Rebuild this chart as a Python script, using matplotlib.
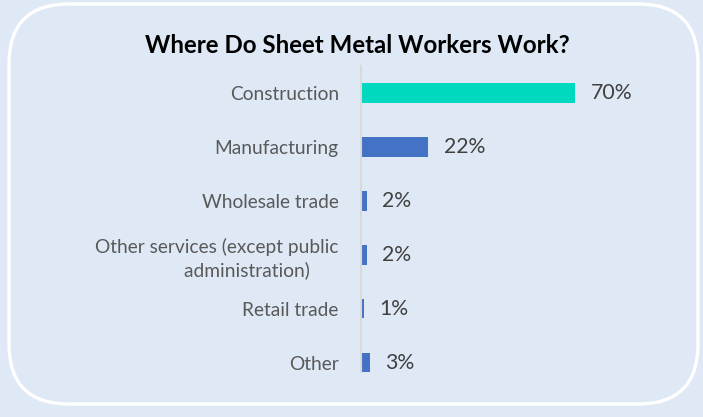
import matplotlib.pyplot as plt
from matplotlib.patches import FancyBboxPatch

# data
categories = ['Construction', 'Manufacturing', 'Wholesale trade',
              'Other services (except public\nadministration)      ', 'Retail trade', 'Other']
shares = [70, 22, 2, 2, 1, 3]
colors = ['#00d9bf', '#4472c4', '#4472c4', '#4472c4', '#4472c4', '#4472c4']

plt.rcParams['font.family'] = ['Lato', 'DejaVu Sans']

fig = plt.figure(figsize=(7.03, 4.17), dpi=100)
fig.patch.set_facecolor('#dee9f5')

# background frame with rounded corners, drawn in pixel units
bg = fig.add_axes([0, 0, 1, 1])
bg.set_xlim(0, 703)
bg.set_ylim(417, 0)
bg.axis('off')
frame = FancyBboxPatch((9 + 60, 4 + 60), 689 - 120, 400 - 120,
                       boxstyle='round,pad=60',
                       facecolor='none', edgecolor='white', lw=2.4)
bg.add_patch(frame)

bg.text(357, 45, 'Where Do Sheet Metal Workers Work?', ha='center', va='center',
        fontsize=17.4, fontweight='bold', color='#000000')

ax = fig.add_axes([361 / 703, 1 - 389.5 / 417, 245 / 703, 323.5 / 417])
ax.set_facecolor('none')
y = list(range(len(categories)))
ax.barh(y, shares, height=0.365, color=colors)
ax.set_ylim(5.5, -0.5)
ax.set_xlim(0, 80)

for yi, v in zip(y, shares):
    ax.text(v + 5, yi, f'{v}%', va='center', ha='left', fontsize=15.3, color='#404040')

ax.set_yticks(y)
ax.set_yticklabels(categories, fontsize=13.8, color='#595959', multialignment='right',
                   linespacing=1.3)
ax.tick_params(axis='y', length=0, pad=16)
ax.set_xticks([])
for s in ['top', 'right', 'bottom']:
    ax.spines[s].set_visible(False)
ax.spines['left'].set_color('#d9d9d9')
ax.spines['left'].set_linewidth(1.5)
ax.spines['left'].set_bounds(-0.5, 5.18)

fig.savefig('out.png', dpi=100, facecolor=fig.get_facecolor())
